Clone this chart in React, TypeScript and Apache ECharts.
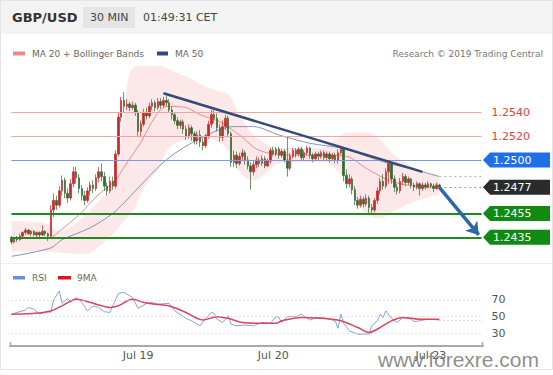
import React, { useEffect, useRef } from 'react';
import * as echarts from 'echarts';

// ---------- data ----------
const slotCount = 168; // 30-min slots on the time axis (data + empty space on the right)
const dayLabels: [number, string][] = [[45, 'Jul 19'], [93, 'Jul 20'], [149, 'Jul 23']];

// candles: [open, close, low, high]
const candles: [number, number, number, number][] = [
  [1.2435, 1.2431, 1.2429, 1.2436], [1.2431, 1.2434, 1.2430, 1.2435], [1.2434, 1.2433, 1.2431, 1.2436],
  [1.2433, 1.2436, 1.2432, 1.2438], [1.2436, 1.2439, 1.2435, 1.2440], [1.2439, 1.2441, 1.2437, 1.2443],
  [1.2441, 1.2438, 1.2437, 1.2442], [1.2438, 1.2440, 1.2436, 1.2441], [1.2440, 1.2437, 1.2436, 1.2441],
  [1.2437, 1.2439, 1.2435, 1.2440], [1.2439, 1.2437, 1.2435, 1.2440], [1.2437, 1.2440, 1.2436, 1.2445],
  [1.2440, 1.2438, 1.2436, 1.2441], [1.2438, 1.2436, 1.2432, 1.2439], [1.2436, 1.2458, 1.2434, 1.2462],
  [1.2458, 1.2466, 1.2452, 1.2472], [1.2466, 1.2462, 1.2458, 1.2470], [1.2462, 1.2474, 1.2460, 1.2478],
  [1.2474, 1.2483, 1.2470, 1.2487], [1.2483, 1.2472, 1.2468, 1.2485], [1.2472, 1.2468, 1.2464, 1.2476],
  [1.2468, 1.2480, 1.2466, 1.2484], [1.2480, 1.2490, 1.2477, 1.2494], [1.2490, 1.2485, 1.2480, 1.2494],
  [1.2485, 1.2476, 1.2472, 1.2488], [1.2476, 1.2470, 1.2466, 1.2479], [1.2470, 1.2466, 1.2462, 1.2474],
  [1.2466, 1.2474, 1.2464, 1.2477], [1.2474, 1.2479, 1.2470, 1.2482], [1.2479, 1.2476, 1.2472, 1.2483],
  [1.2476, 1.2485, 1.2474, 1.2488], [1.2485, 1.2490, 1.2481, 1.2494], [1.2490, 1.2486, 1.2482, 1.2497],
  [1.2486, 1.2478, 1.2474, 1.2490], [1.2478, 1.2474, 1.2470, 1.2481], [1.2474, 1.2482, 1.2472, 1.2486],
  [1.2482, 1.2478, 1.2475, 1.2486], [1.2478, 1.2505, 1.2476, 1.2508], [1.2505, 1.2536, 1.2503, 1.2540],
  [1.2536, 1.2550, 1.2532, 1.2553], [1.2550, 1.2545, 1.2540, 1.2557], [1.2545, 1.2547, 1.2542, 1.2551],
  [1.2547, 1.2544, 1.2541, 1.2549], [1.2544, 1.2546, 1.2542, 1.2549], [1.2546, 1.2540, 1.2537, 1.2548],
  [1.2540, 1.2524, 1.2520, 1.2542], [1.2524, 1.2530, 1.2519, 1.2533], [1.2530, 1.2540, 1.2528, 1.2543],
  [1.2540, 1.2537, 1.2534, 1.2544], [1.2537, 1.2545, 1.2535, 1.2548], [1.2545, 1.2548, 1.2542, 1.2551],
  [1.2548, 1.2544, 1.2541, 1.2550], [1.2544, 1.2549, 1.2542, 1.2552], [1.2549, 1.2546, 1.2543, 1.2552],
  [1.2546, 1.2550, 1.2544, 1.2553], [1.2550, 1.2548, 1.2545, 1.2554], [1.2548, 1.2542, 1.2540, 1.2551],
  [1.2542, 1.2538, 1.2534, 1.2545], [1.2538, 1.2533, 1.2530, 1.2540], [1.2533, 1.2529, 1.2526, 1.2536],
  [1.2529, 1.2532, 1.2526, 1.2534], [1.2532, 1.2526, 1.2522, 1.2534], [1.2526, 1.2520, 1.2517, 1.2529],
  [1.2520, 1.2527, 1.2518, 1.2530], [1.2527, 1.2522, 1.2516, 1.2529], [1.2522, 1.2516, 1.2513, 1.2524],
  [1.2516, 1.2521, 1.2513, 1.2524], [1.2521, 1.2515, 1.2511, 1.2525], [1.2515, 1.2512, 1.2508, 1.2518],
  [1.2512, 1.2520, 1.2510, 1.2522], [1.2520, 1.2530, 1.2518, 1.2533], [1.2530, 1.2538, 1.2527, 1.2542],
  [1.2538, 1.2535, 1.2531, 1.2542], [1.2535, 1.2527, 1.2524, 1.2539], [1.2527, 1.2519, 1.2515, 1.2530],
  [1.2519, 1.2528, 1.2516, 1.2533], [1.2528, 1.2535, 1.2525, 1.2538], [1.2535, 1.2522, 1.2519, 1.2537],
  [1.2522, 1.2498, 1.2494, 1.2524], [1.2498, 1.2504, 1.2494, 1.2508], [1.2504, 1.2497, 1.2493, 1.2507],
  [1.2497, 1.2503, 1.2495, 1.2506], [1.2503, 1.2506, 1.2500, 1.2509], [1.2506, 1.2500, 1.2496, 1.2508],
  [1.2500, 1.2495, 1.2492, 1.2503], [1.2495, 1.2490, 1.2475, 1.2498], [1.2490, 1.2496, 1.2487, 1.2499],
  [1.2496, 1.2500, 1.2493, 1.2503], [1.2500, 1.2497, 1.2494, 1.2502], [1.2497, 1.2501, 1.2495, 1.2504],
  [1.2501, 1.2495, 1.2493, 1.2503], [1.2495, 1.2499, 1.2494, 1.2501], [1.2499, 1.2508, 1.2497, 1.2510],
  [1.2508, 1.2505, 1.2503, 1.2511], [1.2505, 1.2509, 1.2503, 1.2511], [1.2509, 1.2504, 1.2501, 1.2511],
  [1.2504, 1.2507, 1.2502, 1.2509], [1.2507, 1.2500, 1.2498, 1.2509], [1.2500, 1.2493, 1.2486, 1.2519],
  [1.2493, 1.2503, 1.2491, 1.2506], [1.2503, 1.2508, 1.2501, 1.2510], [1.2508, 1.2505, 1.2502, 1.2510],
  [1.2505, 1.2509, 1.2503, 1.2511], [1.2509, 1.2502, 1.2500, 1.2511], [1.2502, 1.2506, 1.2500, 1.2508],
  [1.2506, 1.2510, 1.2504, 1.2512], [1.2510, 1.2504, 1.2501, 1.2511], [1.2504, 1.2501, 1.2498, 1.2506],
  [1.2501, 1.2505, 1.2499, 1.2507], [1.2505, 1.2503, 1.2500, 1.2507], [1.2503, 1.2506, 1.2501, 1.2508],
  [1.2506, 1.2502, 1.2499, 1.2508], [1.2502, 1.2505, 1.2500, 1.2507], [1.2505, 1.2501, 1.2498, 1.2507],
  [1.2501, 1.2504, 1.2499, 1.2506], [1.2504, 1.2500, 1.2497, 1.2506], [1.2500, 1.2506, 1.2497, 1.2509],
  [1.2506, 1.2510, 1.2504, 1.2511], [1.2510, 1.2487, 1.2482, 1.2511], [1.2487, 1.2480, 1.2476, 1.2492],
  [1.2480, 1.2484, 1.2477, 1.2488], [1.2484, 1.2475, 1.2471, 1.2486], [1.2475, 1.2466, 1.2462, 1.2478],
  [1.2466, 1.2462, 1.2459, 1.2469], [1.2462, 1.2467, 1.2460, 1.2470], [1.2467, 1.2463, 1.2460, 1.2469],
  [1.2463, 1.2468, 1.2461, 1.2471], [1.2468, 1.2460, 1.2455, 1.2470], [1.2460, 1.2458, 1.2455, 1.2463],
  [1.2458, 1.2466, 1.2456, 1.2468], [1.2466, 1.2474, 1.2463, 1.2477], [1.2474, 1.2482, 1.2471, 1.2485],
  [1.2482, 1.2478, 1.2475, 1.2488], [1.2478, 1.2490, 1.2476, 1.2493], [1.2490, 1.2497, 1.2480, 1.2498],
  [1.2497, 1.2484, 1.2480, 1.2498], [1.2484, 1.2477, 1.2473, 1.2487], [1.2477, 1.2474, 1.2471, 1.2480],
  [1.2474, 1.2482, 1.2472, 1.2485], [1.2482, 1.2486, 1.2479, 1.2489], [1.2486, 1.2481, 1.2478, 1.2488],
  [1.2481, 1.2484, 1.2479, 1.2486], [1.2484, 1.2479, 1.2476, 1.2485], [1.2479, 1.2477, 1.2474, 1.2481],
  [1.2477, 1.2480, 1.2475, 1.2482], [1.2480, 1.2476, 1.2470, 1.2481], [1.2476, 1.2479, 1.2474, 1.2481],
  [1.2479, 1.2477, 1.2475, 1.2481], [1.2477, 1.2480, 1.2476, 1.2482], [1.2480, 1.2478, 1.2476, 1.2481],
  [1.2478, 1.2476, 1.2473, 1.2480], [1.2476, 1.2479, 1.2475, 1.2481], [1.2479, 1.2477, 1.2475, 1.2480],
];

// moving averages: [slot, price]
const ma20Points: [number, number][] = [
  [0, 1.2434], [14, 1.2435], [17, 1.2440], [24, 1.2454], [31, 1.2471], [37, 1.2483], [40, 1.2494],
  [46, 1.2515], [51, 1.2536], [55, 1.2545], [62, 1.2544], [67, 1.2538], [74, 1.2532], [81, 1.2521],
  [88, 1.2508], [99, 1.2504], [110, 1.2504], [119, 1.2503], [126, 1.2493], [133, 1.2484], [140, 1.2479],
  [152, 1.2477],
];
const ma50Points: [number, number][] = [
  [0, 1.2419], [14, 1.2426], [18, 1.2433], [28, 1.2443], [36, 1.2455], [40, 1.2464], [55, 1.2500],
  [67, 1.2518], [79, 1.2528], [86, 1.2528], [95, 1.2521], [106, 1.2514], [117, 1.2510], [125, 1.2504],
  [134, 1.2497], [143, 1.2492], [152, 1.2486],
];
// Bollinger band envelope
const bandSlots = [0, 7, 13, 17, 23, 28, 31, 35, 38, 40, 43, 47, 53, 56, 62, 67, 72, 77, 81, 86, 91, 95, 102, 110, 115, 120, 126, 131, 136, 142, 147, 152];
const bandUpper = [1.2449, 1.2448, 1.2446, 1.2440, 1.2447, 1.2458, 1.2465, 1.2475, 1.2500, 1.2540, 1.2577, 1.2579, 1.2579, 1.2576, 1.2570, 1.2564, 1.2559, 1.2555, 1.2538, 1.2521, 1.2513, 1.2510, 1.2510, 1.2510, 1.2517, 1.2523, 1.2523, 1.2517, 1.2504, 1.2495, 1.2490, 1.2487];
const bandLower = [1.2423, 1.2423, 1.2423, 1.2422, 1.2421, 1.2422, 1.2427, 1.2435, 1.2443, 1.2449, 1.2456, 1.2476, 1.2495, 1.2510, 1.2517, 1.2518, 1.2517, 1.2508, 1.2490, 1.2483, 1.2490, 1.2497, 1.2498, 1.2498, 1.2493, 1.2476, 1.2455, 1.2451, 1.2457, 1.2464, 1.2468, 1.2471];

const redLevels = [1.2540, 1.2520];
const blueLevel = 1.2500;
const greenLevels = [1.2455, 1.2435];
const tagLevels: { value: number; color: string }[] = [
  { value: 1.2500, color: '#1f6fe6' },
  { value: 1.2477, color: '#2b2b2b' },
  { value: 1.2455, color: '#118a11' },
  { value: 1.2435, color: '#118a11' },
];
const trendLine: [number, number][] = [[54, 1.2556], [146, 1.2490]];
const forecastArrow: [number, number][] = [[152, 1.2477], [166, 1.2437]];
const lastPrice = 1.2477;
const lastMa50 = 1.2486;

const rsiPoints: [number, number][] = [
  [0, 53], [5, 58], [6, 61], [8, 59], [10, 53], [13, 57], [14, 55], [15, 70], [17, 81], [18, 66],
  [20, 72], [21, 67], [23, 73], [25, 67], [27, 57], [29, 63], [31, 61], [33, 56], [35, 55], [36, 63],
  [38, 78], [40, 79], [43, 73], [45, 60], [48, 66], [50, 67], [52, 65], [56, 66], [58, 57], [62, 48],
  [64, 45], [67, 39], [69, 48], [71, 55], [72, 54], [73, 47], [75, 43], [77, 51], [78, 41], [80, 39],
  [83, 40], [86, 39], [89, 43], [92, 42], [94, 50], [95, 49], [96, 43], [98, 50], [101, 50], [103, 53],
  [106, 46], [109, 49], [112, 48], [115, 45], [116, 36], [117, 53], [118, 42], [120, 33], [123, 29], [127, 29],
  [128, 39], [130, 45], [131, 53], [132, 49], [133, 57], [135, 48], [137, 43], [139, 49], [142, 47], [143, 44],
  [145, 45], [148, 47], [152, 46],
];
const ma9Points: [number, number][] = [
  [0, 53], [13, 56], [18, 63], [23, 71], [29, 66], [35, 61], [38, 63], [43, 71], [47, 67], [51, 65],
  [57, 62], [62, 55], [68, 46], [73, 50], [77, 48], [82, 43], [89, 42], [94, 42], [96, 45], [103, 49],
  [110, 48], [117, 45], [123, 37], [127, 31], [131, 37], [135, 45], [139, 49], [145, 47], [152, 47],
];
const rsiLevels = [70, 50, 30];

// ---------- chart ----------
const FONT = '"DejaVu Sans", Verdana, sans-serif';
const slots = Array.from({ length: slotCount }, (_, i) => String(i));
const dayMap: Record<number, string> = {};
dayLabels.forEach(([i, s]) => (dayMap[i] = s));
const FIRST = 0;
const LAST = slotCount - 1;

// a segment between two data coordinates, optional label at its end and optional end symbol
function segment(a: [number, number], b: [number, number], lineStyle: any, opts: { label?: any; endSymbol?: string } = {}): any {
  return [
    { coord: a, symbol: 'none', lineStyle, label: opts.label || { show: false } },
    opts.endSymbol ? { coord: b, symbol: opts.endSymbol, symbolSize: [12, 12] } : { coord: b, symbol: 'none' },
  ];
}

function levelLabel(text: string, color: string): any {
  return { show: true, position: 'end', distance: 10, color, fontSize: 11, fontFamily: FONT, formatter: () => text };
}

function buildOption(): any {
  const lastSlot = candles.length - 1;
  const lastRsi = rsiPoints[rsiPoints.length - 1][1];
  return {
    animation: false,
    textStyle: { fontFamily: FONT },
    grid: [
      { left: 10, right: 70, top: 64.7, bottom: 113.9 },
      { left: 10, right: 70, top: 275, bottom: 29.2 },
    ],
    xAxis: [
      { type: 'category', gridIndex: 0, data: slots, boundaryGap: true, show: false },
      {
        type: 'category', gridIndex: 1, data: slots, boundaryGap: true,
        axisLine: { lineStyle: { color: '#a8a8a8', width: 2 } },
        axisTick: { show: false },
        splitLine: { show: false },
        axisLabel: {
          interval: (idx: number) => dayMap[idx] !== undefined,
          formatter: (_v: string, idx: number) => dayMap[idx] || '',
          color: '#555', fontSize: 11, margin: 4, fontFamily: FONT,
        },
      },
    ],
    yAxis: [
      { type: 'value', gridIndex: 0, min: 1.2415, max: 1.2580, show: false, splitLine: { show: false } },
      { type: 'value', gridIndex: 1, min: 15, max: 100, show: false, splitLine: { show: false } },
    ],
    series: [
      {
        name: 'bbLower', type: 'line', xAxisIndex: 0, yAxisIndex: 0, stack: 'bb', smooth: 0.4,
        symbol: 'none', lineStyle: { opacity: 0 }, silent: true, z: 1,
        data: bandSlots.map((s, k) => [s, bandLower[k]]),
      },
      {
        name: 'bbWidth', type: 'line', xAxisIndex: 0, yAxisIndex: 0, stack: 'bb', smooth: 0.4,
        symbol: 'none', lineStyle: { opacity: 0 }, silent: true, z: 1,
        areaStyle: { color: 'rgba(248, 200, 200, 0.6)' },
        data: bandSlots.map((s, k) => [s, bandUpper[k] - bandLower[k]]),
      },
      {
        name: 'MA 50', type: 'line', xAxisIndex: 0, yAxisIndex: 0, smooth: 0.3, symbol: 'none', z: 2,
        lineStyle: { color: '#8392b8', width: 1 },
        data: ma50Points,
      },
      {
        name: 'MA 20', type: 'line', xAxisIndex: 0, yAxisIndex: 0, smooth: 0.3, symbol: 'none', z: 2,
        lineStyle: { color: '#ef8a8a', width: 1 },
        data: ma20Points,
        markLine: {
          silent: true, symbol: ['none', 'none'], animation: false, z: 4,
          data: [
            ...redLevels.map((v) => segment([FIRST, v], [LAST, v], { color: '#f3a3a3', width: 1, type: 'solid' }, { label: levelLabel(v.toFixed(4), '#e4433a') })),
            segment([FIRST, blueLevel], [LAST, blueLevel], { color: '#7b98e6', width: 1, type: 'solid' }),
            ...greenLevels.map((v) => segment([FIRST, v], [LAST, v], { color: '#1f8a1f', width: 2, type: 'solid' })),
            segment([lastSlot, lastPrice], [LAST, lastPrice], { color: '#9a9a9a', width: 1, type: [2, 3] }),
            segment([lastSlot, lastMa50], [LAST, lastMa50], { color: '#b5b5b5', width: 1, type: [2, 3] }),
            segment(trendLine[0], trendLine[1], { color: '#34497a', width: 2.5, type: 'solid' }),
            segment(forecastArrow[0], forecastArrow[1], { color: '#2d66ad', width: 3.5, type: 'solid' }, { endSymbol: 'arrow' }),
          ],
        },
      },
      {
        name: 'GBP/USD', type: 'candlestick', xAxisIndex: 0, yAxisIndex: 0, z: 3,
        barWidth: 2,
        itemStyle: {
          color: '#c62828', color0: '#2f6a2f',
          borderColor: '#c62828', borderColor0: '#2f6a2f', borderWidth: 0.7,
        },
        data: candles,
      },
      {
        name: 'RSI', type: 'line', xAxisIndex: 1, yAxisIndex: 1, symbol: 'none', z: 3,
        lineStyle: { color: '#86a3de', width: 1 },
        data: rsiPoints,
        markLine: {
          silent: true, symbol: ['none', 'none'], animation: false,
          data: [
            ...rsiLevels.map((v) => segment([FIRST, v], [LAST, v], { color: '#c8c8c8', width: 1, type: [1, 3] }, { label: levelLabel(String(v), '#555') })),
            segment([lastSlot, lastRsi], [LAST, lastRsi], { color: '#a9b8e6', width: 1, type: [1, 3] }),
          ],
        },
      },
      {
        name: '9MA', type: 'line', xAxisIndex: 1, yAxisIndex: 1, symbol: 'none', smooth: 0.35, z: 4,
        lineStyle: { color: '#d9455f', width: 1.5 },
        data: ma9Points,
      },
    ],
  };
}

function text(x: number, y: number, t: string, font: string, fill: string, align = 'left'): any {
  return { type: 'text', x, y, silent: true, style: { text: t, font, fill, textAlign: align, textVerticalAlign: 'middle' } };
}

function buildGraphics(chart: echarts.ECharts): any[] {
  const py = (v: number) => chart.convertToPixel({ yAxisIndex: 0 } as any, v) as number;
  const g: any[] = [
    { type: 'rect', shape: { x: 0, y: 0, width: 553, height: 34 }, style: { fill: '#f3f3f3' }, silent: true, z: -1 },
    { type: 'rect', shape: { x: 0.5, y: 0.5, width: 552, height: 369 }, style: { fill: 'none', stroke: '#e4e4e4', lineWidth: 1 }, silent: true },
    { type: 'line', shape: { x1: 1, y1: 263.5, x2: 552, y2: 263.5 }, style: { stroke: '#efefef', lineWidth: 1 }, silent: true },
    text(12, 17.5, 'GBP/USD', `bold 13px ${FONT}`, '#333'),
    { type: 'rect', shape: { x: 83, y: 7, width: 52, height: 21 }, style: { fill: '#e5e5e5' }, silent: true },
    text(90, 17.5, '30 MIN', `11px ${FONT}`, '#444'),
    text(143, 17.5, '01:49:31 CET', `11px ${FONT}`, '#444'),
    { type: 'rect', shape: { x: 13, y: 51.5, width: 12, height: 4 }, style: { fill: '#ef8585' }, silent: true },
    text(32, 53.5, 'MA 20 + Bollinger Bands', `9px ${FONT}`, '#666'),
    { type: 'rect', shape: { x: 157, y: 51.5, width: 11, height: 4 }, style: { fill: '#2c4a85' }, silent: true },
    text(175, 53.5, 'MA 50', `9px ${FONT}`, '#666'),
    text(543, 53.5, 'Research © 2019 Trading Central', `9px ${FONT}`, '#777', 'right'),
    { type: 'rect', shape: { x: 13, y: 276, width: 12, height: 3.5 }, style: { fill: '#6a8edb' }, silent: true },
    text(32, 277.5, 'RSI', `9px ${FONT}`, '#666'),
    { type: 'rect', shape: { x: 58, y: 276, width: 13, height: 3.5 }, style: { fill: '#e0141e' }, silent: true },
    text(77, 277.5, '9MA', `9px ${FONT}`, '#666'),
    { type: 'line', shape: { x1: 10.5, y1: 342, x2: 10.5, y2: 347 }, style: { stroke: '#a8a8a8', lineWidth: 1.5 }, silent: true },
    { type: 'line', shape: { x1: 482.5, y1: 342, x2: 482.5, y2: 347 }, style: { stroke: '#a8a8a8', lineWidth: 1.5 }, silent: true },
  ];
  tagLevels.forEach((t) => {
    const y = py(t.value);
    g.push({
      type: 'polygon', silent: true,
      shape: { points: [[483, y], [490, y - 7.5], [550, y - 7.5], [550, y + 7.5], [490, y + 7.5]] },
      style: { fill: t.color },
    });
    g.push(text(493, y + 0.5, t.value.toFixed(4), `11px ${FONT}`, '#fff'));
  });
  g.push({
    type: 'text', x: 378, y: 359, silent: true, z: 100,
    style: { text: 'www.forexre.com', font: '21px "Liberation Sans", Arial, sans-serif', fill: 'rgba(120,120,120,0.85)', textAlign: 'left', textVerticalAlign: 'middle' },
  });
  return g;
}

export default function App() {
  const ref = useRef<HTMLDivElement>(null);
  useEffect(() => {
    const el = ref.current;
    if (!el) return;
    const chart = echarts.init(el, null, { renderer: 'svg' });
    chart.setOption(buildOption());
    chart.setOption({ graphic: buildGraphics(chart) });
    return () => chart.dispose();
  }, []);
  return (
    <div
      ref={ref}
      style={{ position: 'absolute', left: 0, top: 0, width: 553, height: 375, background: '#fff' }}
    />
  );
}
